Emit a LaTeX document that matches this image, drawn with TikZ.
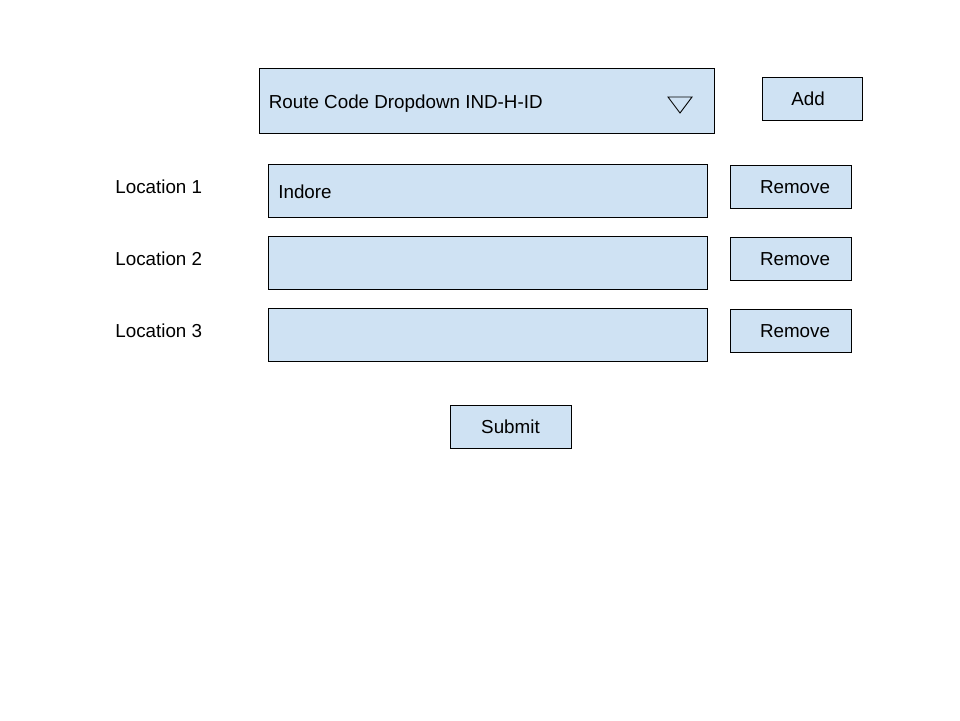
\documentclass[tikz,border=0pt]{standalone}
\usepackage{fontspec}
\setmainfont{Liberation Sans}
\definecolor{formblue}{RGB}{207,226,243}

\tikzset{
  box/.style={draw=black, fill=formblue, line width=0.5pt, inner sep=0pt},
  field/.style={box, minimum width=8.78cm, minimum height=1.06cm},
  button/.style={box, minimum width=2.42cm, minimum height=0.86cm},
  txt/.style={font=\fontsize{10.7pt}{12.8pt}\selectfont, inner sep=0pt}
}

\begin{document}
\begin{tikzpicture}

\useasboundingbox (0,0) rectangle (19.2,-14.4);

\node[box, minimum width=9.10cm, minimum height=1.30cm] (route) at (9.73,-2.01) {};
\node[txt, anchor=west] (routetext) at (5.37,-2.07) {Route Code Dropdown IND-H-ID};
\draw[line width=0.5pt] (13.36,-1.94) -- (13.84,-1.94) -- (13.60,-2.26) -- cycle;

\node[button, minimum width=2.0cm] (add) at (16.24,-1.97) {};
\node[txt] (addtext) at ([xshift=-0.08cm]add.center) {Add};

\node[txt, anchor=west] (loc1) at (2.30,-3.74) {Location 1};
\node[txt, anchor=west] (loc2) at (2.30,-5.18) {Location 2};
\node[txt, anchor=west] (loc3) at (2.30,-6.62) {Location 3};

\node[field] (field1) at (9.75,-3.81) {};
\node[field] (field2) at (9.75,-5.25) {};
\node[field] (field3) at (9.75,-6.69) {};
\node[txt, anchor=west] (indore) at (5.56,-3.84) {Indore};

\node[button] (remove1) at (15.81,-3.73) {};
\node[button] (remove2) at (15.81,-5.17) {};
\node[button] (remove3) at (15.81,-6.61) {};
\node[txt] (removetext1) at ([xshift=0.09cm, yshift=-0.02cm]remove1.center) {Remove};
\node[txt] (removetext2) at ([xshift=0.09cm, yshift=-0.02cm]remove2.center) {Remove};
\node[txt] (removetext3) at ([xshift=0.09cm, yshift=-0.02cm]remove3.center) {Remove};

\node[button, txt] (submit) at (10.21,-8.53) {Submit};

\end{tikzpicture}
\end{document}
